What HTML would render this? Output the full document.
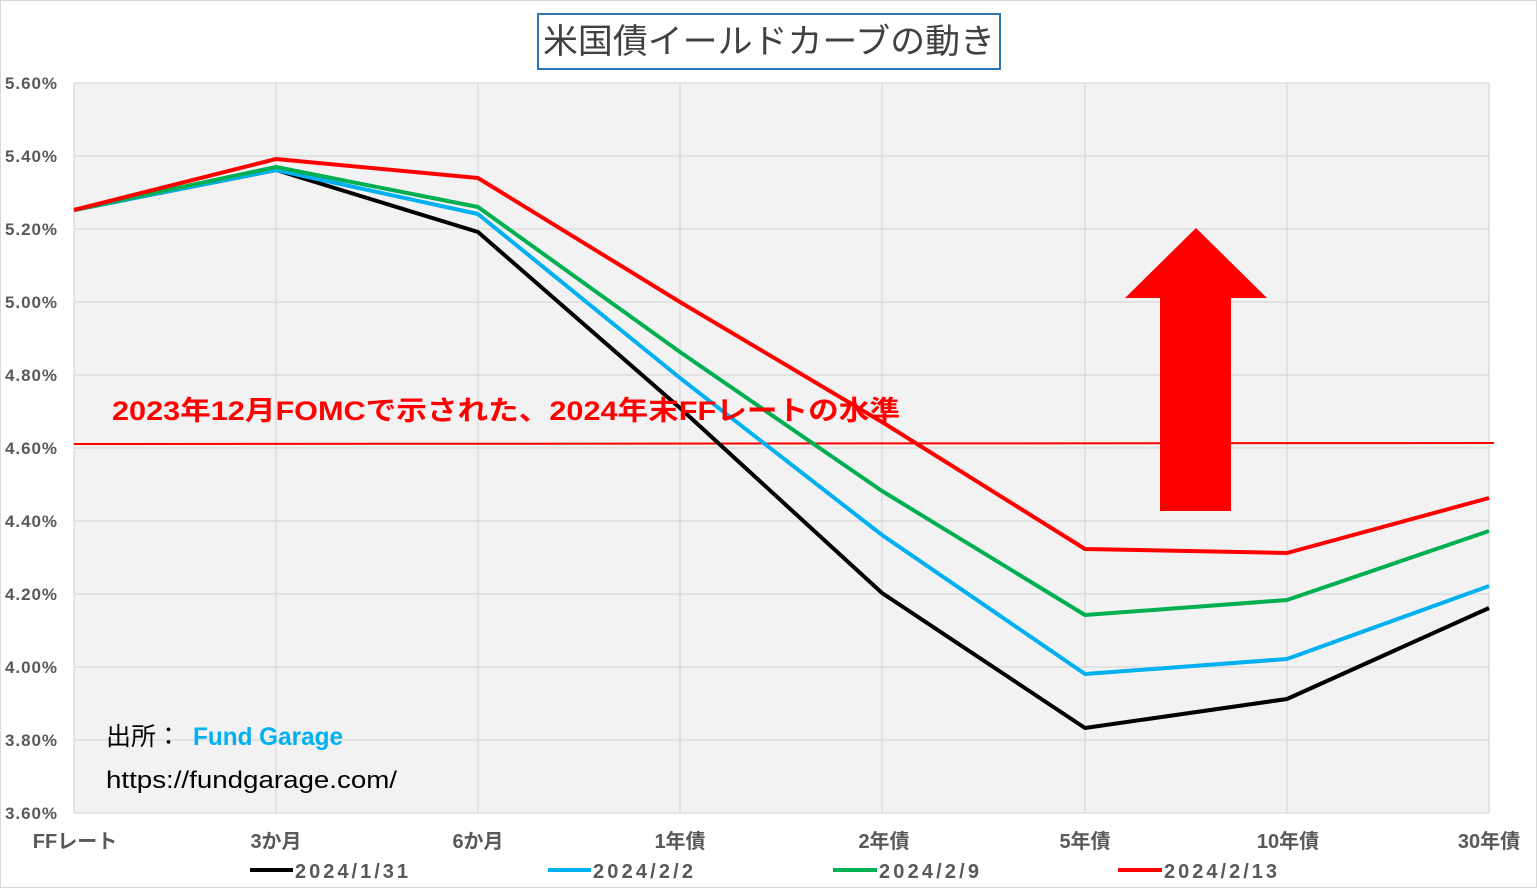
<!DOCTYPE html>
<html><head><meta charset="utf-8"><style>
body{margin:0;background:#fff}
svg{display:block}
text{font-family:"Liberation Sans","Noto Sans CJK JP",sans-serif}
</style></head><body>
<svg width="1537" height="888" viewBox="0 0 1537 888" xmlns="http://www.w3.org/2000/svg">
<rect x="0.5" y="0.5" width="1536" height="887" fill="#fff" stroke="#d9d9d9"/>
<rect x="74" y="83" width="1415" height="730" fill="#f2f2f2"/>
<g stroke="#d9d9d9" stroke-width="1.3">
<line x1="74" y1="83" x2="1489" y2="83"/><line x1="74" y1="156" x2="1489" y2="156"/>
<line x1="74" y1="229" x2="1489" y2="229"/><line x1="74" y1="302" x2="1489" y2="302"/>
<line x1="74" y1="375" x2="1489" y2="375"/><line x1="74" y1="448" x2="1489" y2="448"/>
<line x1="74" y1="521" x2="1489" y2="521"/><line x1="74" y1="594" x2="1489" y2="594"/>
<line x1="74" y1="667" x2="1489" y2="667"/><line x1="74" y1="740" x2="1489" y2="740"/>
<line x1="74" y1="813" x2="1489" y2="813"/>
<line x1="74" y1="83" x2="74" y2="813"/><line x1="276" y1="83" x2="276" y2="813"/>
<line x1="478" y1="83" x2="478" y2="813"/><line x1="680" y1="83" x2="680" y2="813"/>
<line x1="882" y1="83" x2="882" y2="813"/><line x1="1085" y1="83" x2="1085" y2="813"/>
<line x1="1287" y1="83" x2="1287" y2="813"/><line x1="1489" y1="83" x2="1489" y2="813"/>
</g>
<g font-size="17" font-weight="bold" fill="#595959">
<text x="5" y="89" textLength="52">5.60%</text><text x="5" y="162" textLength="52">5.40%</text><text x="5" y="235" textLength="52">5.20%</text>
<text x="5" y="308" textLength="52">5.00%</text><text x="5" y="381" textLength="52">4.80%</text><text x="5" y="454" textLength="52">4.60%</text>
<text x="5" y="527" textLength="52">4.40%</text><text x="5" y="600" textLength="52">4.20%</text><text x="5" y="673" textLength="52">4.00%</text>
<text x="5" y="746" textLength="52">3.80%</text><text x="5" y="819" textLength="52">3.60%</text>
</g>
<g font-size="20" font-weight="bold" fill="#595959" text-anchor="middle">
<text x="75" y="848">FFレート</text><text x="276" y="848">3か月</text><text x="478" y="848">6か月</text>
<text x="680" y="848">1年債</text><text x="884" y="848">2年債</text><text x="1085" y="848">5年債</text>
<text x="1288" y="848">10年債</text><text x="1489" y="848">30年債</text>
</g>
<line x1="74" y1="444" x2="1494" y2="443" stroke="#ff0000" stroke-width="2"/>
<g fill="none" stroke-width="4" stroke-linejoin="round">
<polyline stroke="#000" points="74,210 276,170 478,232 680,408 882,593 1085,728 1287,699 1489,608"/>
<polyline stroke="#00b0f0" points="74,210 276,170 478,214 680,378 882,535 1085,674 1287,659 1489,586"/>
<polyline stroke="#00b050" points="74,210 276,167 478,207 680,352 882,491 1085,615 1287,600 1489,531"/>
<polyline stroke="#ff0000" points="74,210 276,159 478,178 680,302 882,422 1085,549 1287,553 1489,498"/>
</g>
<text x="112" y="420" font-size="27" font-weight="bold" fill="#ff0000" textLength="788" lengthAdjust="spacingAndGlyphs">2023年12月FOMCで示された、2024年末FFレートの水準</text>
<polygon fill="#ff0000" points="1160,511 1231,511 1231,298 1267,298 1196,228 1125,298 1160,298"/>
<text x="106" y="745" font-size="25" fill="#000">出所：</text>
<text x="193" y="745" font-size="25" fill="#00b0f0" font-weight="bold" textLength="150" lengthAdjust="spacingAndGlyphs">Fund Garage</text>
<text x="106" y="788" font-size="24" fill="#000" textLength="291" lengthAdjust="spacingAndGlyphs">https://fundgarage.com/</text>
<rect x="538" y="14" width="462" height="55" fill="#fff" stroke="#2e75b6" stroke-width="2"/>
<text x="543" y="53" font-size="34" fill="#404040" textLength="452" lengthAdjust="spacingAndGlyphs">米国債イールドカーブの動き</text>
<g font-size="20" font-weight="bold" fill="#595959">
<line x1="250" y1="870" x2="293" y2="870" stroke="#000" stroke-width="4"/><text x="295" y="878" textLength="113">2024/1/31</text>
<line x1="548" y1="870" x2="591" y2="870" stroke="#00b0f0" stroke-width="4"/><text x="593" y="878" textLength="100">2024/2/2</text>
<line x1="833" y1="870" x2="877" y2="870" stroke="#00b050" stroke-width="4"/><text x="879" y="878" textLength="100">2024/2/9</text>
<line x1="1118" y1="870" x2="1162" y2="870" stroke="#ff0000" stroke-width="4"/><text x="1164" y="878" textLength="113">2024/2/13</text>
</g>
</svg>
</body></html>
